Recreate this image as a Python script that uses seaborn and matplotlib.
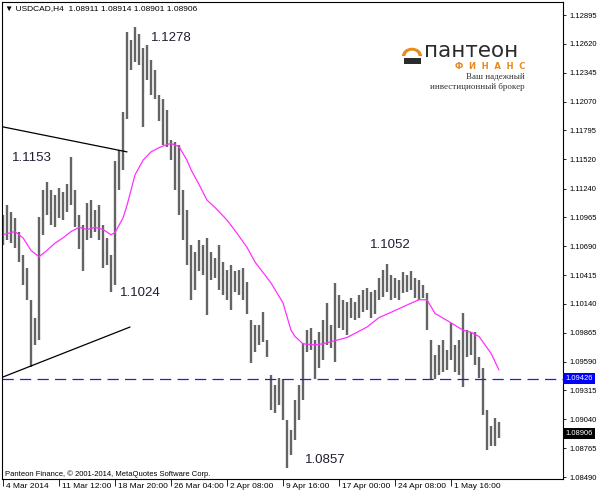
import matplotlib
matplotlib.use("Agg")
import matplotlib.pyplot as plt
import matplotlib.transforms as mtransforms
from matplotlib.patches import Wedge, Rectangle
import numpy as np
import pandas as pd
import seaborn as sns

# USDCAD H4 bars (one entry per bar)
highs = [1.1099, 1.1108, 1.1102, 1.1096, 1.1083, 1.1061, 1.1048, 1.1018, 1.1001, 1.1097,
         1.1123, 1.1130, 1.1123, 1.1118, 1.1125, 1.1121, 1.1128, 1.1154, 1.1123, 1.1099,
         1.1089, 1.1110, 1.1113, 1.1104, 1.1108, 1.1089, 1.1077, 1.1061, 1.1150, 1.1161,
         1.1197, 1.1273, 1.1266, 1.1278, 1.1271, 1.1258, 1.1261, 1.1247, 1.1237, 1.1213,
         1.1209, 1.1199, 1.1170, 1.1168, 1.1166, 1.1123, 1.1104, 1.1070, 1.1064, 1.1075,
         1.1070, 1.1077, 1.1064, 1.1058, 1.1070, 1.1054, 1.1046, 1.1051, 1.1045, 1.1046,
         1.1048, 1.1035, 1.0999, 1.0994, 1.0994, 1.1006, 1.0980, 1.0946, 1.0937, 1.0943,
         1.0942, 1.0903, 1.0894, 1.0922, 1.0937, 1.0977, 1.0989, 1.0991, 1.0980, 1.0987,
         1.0999, 1.1015, 1.0994, 1.1034, 1.1023, 1.1018, 1.1016, 1.1020, 1.1016, 1.1023,
         1.1027, 1.1029, 1.1025, 1.1027, 1.1039, 1.1046, 1.1052, 1.1042, 1.1039, 1.1037,
         1.1044, 1.1042, 1.1045, 1.1039, 1.1037, 1.1032, 1.1024, 1.0980, 1.0965, 1.0975,
         1.0980, 1.0970, 1.0996, 1.0975, 1.0980, 1.1005, 1.0989, 1.0987, 1.0987, 1.0963,
         1.0953, 1.0913, 1.0898, 1.0905, 1.0901]
lows = [1.1070, 1.1075, 1.1072, 1.1067, 1.1054, 1.1032, 1.1018, 1.0954, 1.0975, 1.0980,
        1.1080, 1.1099, 1.1089, 1.1087, 1.1096, 1.1094, 1.1102, 1.1108, 1.1087, 1.1066,
        1.1045, 1.1075, 1.1077, 1.1083, 1.1075, 1.1048, 1.1051, 1.1025, 1.1032, 1.1123,
        1.1142, 1.1190, 1.1237, 1.1245, 1.1242, 1.1183, 1.1228, 1.1213, 1.1209, 1.1188,
        1.1166, 1.1164, 1.1151, 1.1123, 1.1099, 1.1075, 1.1051, 1.1018, 1.1027, 1.1045,
        1.1042, 1.1003, 1.1037, 1.1039, 1.1027, 1.1023, 1.1018, 1.1008, 1.1025, 1.1023,
        1.1018, 1.1004, 1.0958, 1.0968, 1.0975, 1.0978, 1.0963, 1.0913, 1.0910, 1.0918,
        1.0903, 1.0858, 1.0870, 1.0884, 1.0903, 1.0922, 1.0968, 1.0970, 1.0942, 1.0953,
        1.0961, 1.0975, 1.0972, 1.0959, 1.0991, 1.0989, 1.0984, 1.1001, 1.0999, 1.1001,
        1.1006, 1.1008, 1.1001, 1.1004, 1.1018, 1.1021, 1.1025, 1.1018, 1.1020, 1.1018,
        1.1024, 1.1025, 1.1027, 1.1020, 1.1018, 1.1020, 1.0989, 1.0942, 1.0942, 1.0946,
        1.0949, 1.0951, 1.0961, 1.0949, 1.0946, 1.0935, 1.0963, 1.0965, 1.0956, 1.0943,
        1.0908, 1.0875, 1.0879, 1.0879, 1.0886]

# moving average (magenta), sampled at these bars
ma_bars = [0, 3, 5, 7, 9, 11, 13, 15, 17, 19, 21, 23, 25, 27, 28, 30, 31, 33, 35, 37,
           39, 41, 42, 44, 46, 47, 49, 51, 53, 56, 58, 61, 63, 66, 67, 70, 72, 73, 75, 78,
           80, 82, 86, 91, 94, 97, 101, 104, 106, 108, 112, 115, 117, 119, 122, 124]
ma_values = [1.1080, 1.1083, 1.1077, 1.1065, 1.1059, 1.1065, 1.1072, 1.1077, 1.1083, 1.1087,
             1.1085, 1.1087, 1.1085, 1.1080, 1.1082, 1.1096, 1.1108, 1.1137, 1.1151, 1.1159,
             1.1163, 1.1166, 1.1167, 1.1164, 1.1151, 1.1142, 1.1128, 1.1113, 1.1106, 1.1094,
             1.1084, 1.1068, 1.1054, 1.1039, 1.1034, 1.1015, 1.0989, 1.0983, 1.0976, 1.0975,
             1.0976, 1.0978, 1.0982, 1.0992, 1.1001, 1.1006, 1.1013, 1.1018, 1.1018, 1.1005,
             1.0996, 1.0989, 1.0987, 1.0983, 1.0967, 1.0951]

time_ticks = [0, 14, 28, 42, 56, 70, 84, 98, 112]
time_labels = ["4 Mar 2014", "11 Mar 12:00", "18 Mar 20:00", "26 Mar 04:00", "2 Apr 08:00",
               "9 Apr 16:00", "17 Apr 00:00", "24 Apr 08:00", "1 May 16:00"]
price_ticks = [1.12895, 1.12620, 1.12345, 1.12070, 1.11795, 1.11520, 1.11240, 1.10965,
               1.10690, 1.10415, 1.10140, 1.09865, 1.09590, 1.09315, 1.09040, 1.08765, 1.08490]

level_price = 1.09426
last_price = 1.08906
upper_trend_x = [-0.25, 31.0]
upper_trend_y = [1.1183, 1.1159]
lower_trend_x = [-0.25, 31.75]
lower_trend_y = [1.0944, 1.0992]
extreme_labels = ["1.1278", "1.1153", "1.1024", "1.1052", "1.0857"]

sns.set_style("white")
plt.rcParams["font.family"] = ["Liberation Sans", "DejaVu Sans"]

fig = plt.figure(figsize=(6, 4.96), dpi=100)
ax = fig.add_axes([2 / 600, 17 / 496, 561 / 600, 477 / 496])

bars = pd.DataFrame({"bar": np.arange(len(highs)), "high": highs, "low": lows})
ax.vlines(bars["bar"], bars["low"], bars["high"], color="#646464", linewidth=1.7)

ma = pd.DataFrame({"bar": ma_bars, "ma": ma_values})
sns.lineplot(data=ma, x="bar", y="ma", ax=ax, color="#ff30ff", linewidth=0.9)

# trend lines and support level
ax.plot(upper_trend_x, upper_trend_y, color="black", linewidth=0.9)
ax.plot(lower_trend_x, lower_trend_y, color="black", linewidth=0.9)
ax.axhline(level_price, color="#2020d8", linewidth=0.9, dashes=(9, 5))

# extreme annotations
label_pos = [(37.0, 1.1268), (2.25, 1.1153), (29.25, 1.1024), (91.75, 1.1070), (75.5, 1.0865)]
for txt, (bx, py) in zip(extreme_labels, label_pos):
    ax.text(bx, py, txt, fontsize=9.5, color="#1e1e34", ha="left", va="center")

ax.set_xlim(-0.25, 140)
ax.set_ylim(1.08471, 1.13019)
ax.set_xlabel("")
ax.set_ylabel("")

ax.yaxis.tick_right()
ax.set_yticks(price_ticks)
ax.set_yticklabels([f"{v:.5f}" for v in price_ticks])
ax.tick_params(axis="y", right=True, length=2.5, width=0.6, labelsize=5.5, pad=2.5, colors="black")

ax.set_xticks(time_ticks)
ax.set_xticklabels(time_labels)
ax.tick_params(axis="x", bottom=True, length=5, width=0.6, labelsize=6, pad=-2.2, colors="black")
offset = mtransforms.ScaledTranslation(2 / 72, 0, fig.dpi_scale_trans)
for lab in ax.get_xticklabels():
    lab.set_ha("left")
    lab.set_transform(lab.get_transform() + offset)

for sp in ax.spines.values():
    sp.set_visible(True)
    sp.set_color("black")
    sp.set_linewidth(0.8)

# price boxes on the right scale
trans = mtransforms.blended_transform_factory(ax.transAxes, ax.transData)
ax.text(1.004, level_price, f"{level_price:.5f}", transform=trans, color="white", fontsize=5.5,
        ha="left", va="center", clip_on=False,
        bbox=dict(boxstyle="square,pad=0.25", fc="#0000ff", ec="none"))
ax.text(1.004, last_price, f"{last_price:.5f}", transform=trans, color="white", fontsize=5.5,
        ha="left", va="center", clip_on=False,
        bbox=dict(boxstyle="square,pad=0.25", fc="black", ec="none"))

# header and footer
fig.text(5 / 600, 1 - 9 / 496, "▼ USDCAD,H4  1.08911 1.08914 1.08901 1.08906",
         fontsize=6, va="center", ha="left", color="black")
fig.text(5 / 600, 1 - 474 / 496, "Panteon Finance, © 2001-2014, MetaQuotes Software Corp.",
         fontsize=5.5, va="center", ha="left", color="black")

# logo
def fx(px):
    return px / 600

def fy(py):
    return 1 - py / 496

fig.patches.append(Wedge((fx(412), fy(56)), fx(10), 0, 180, width=fx(3.5),
                         transform=fig.transFigure, facecolor="#e8891c", edgecolor="none",
                         figure=fig))
fig.patches.append(Rectangle((fx(404), fy(64)), fx(17), 6 / 496, transform=fig.transFigure,
                             facecolor="#2b2b2b", edgecolor="none", figure=fig))
fig.text(fx(424), fy(51), "пантеон", fontsize=15.5, color="#2b2b2b", ha="left", va="center",
         family=["DejaVu Sans"])
fig.text(fx(525), fy(67), "Ф  И  Н  А  Н  С", fontsize=6, color="#e8891c", ha="right",
         va="center", family=["DejaVu Sans"], weight="bold")
fig.text(fx(525), fy(77), "Ваш надежный", fontsize=6.5, color="#333333", ha="right",
         va="center", family=["Liberation Serif", "DejaVu Serif"])
fig.text(fx(525), fy(87), "инвестиционный брокер", fontsize=6.5, color="#333333", ha="right",
         va="center", family=["Liberation Serif", "DejaVu Serif"])

fig.savefig("out.png", dpi=100)
